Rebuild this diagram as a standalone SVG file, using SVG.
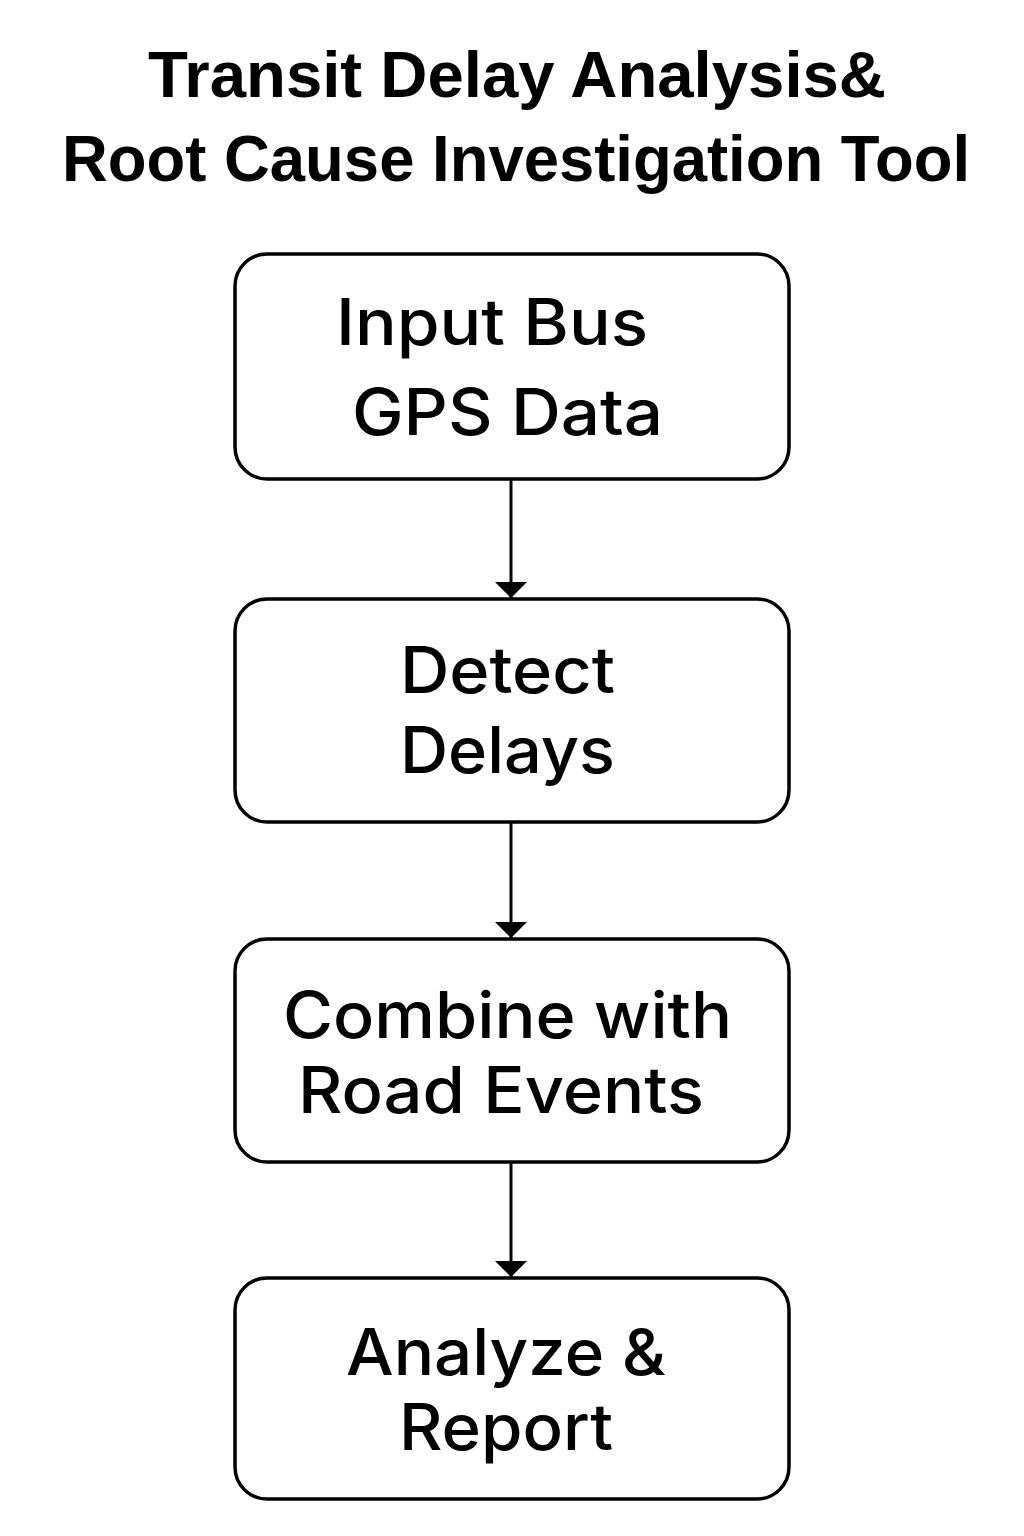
<svg xmlns="http://www.w3.org/2000/svg" width="1024" height="1536" viewBox="0 0 1024 1536">
<style>
.title{font-family:"Liberation Sans",Arial,sans-serif;font-weight:bold;font-size:64px;fill:#000;text-anchor:middle}
.box{fill:#fff;stroke:#000;stroke-width:3.5}
.lbl{font-family:Inter,"Noto Sans",sans-serif;font-weight:500;font-size:64px;fill:#000}
.conn{stroke:#000;stroke-width:3;fill:none}
</style>
<defs>
<marker id="ah" markerWidth="16" markerHeight="32" refX="16" refY="16" orient="auto" markerUnits="userSpaceOnUse">
<path d="M0,0 L16,16 L0,32 Z" fill="#000"/>
</marker>
</defs>
<rect width="1024" height="1536" fill="#fff"/>
<g id="title">
<text class="title" x="517" y="97" textLength="738" lengthAdjust="spacingAndGlyphs">Transit Delay Analysis&amp;</text>
<text class="title" x="516" y="181" textLength="908" lengthAdjust="spacingAndGlyphs">Root Cause Investigation Tool</text>
</g>
<g id="connectors">
<line class="conn" x1="511" y1="479" x2="511" y2="598" marker-end="url(#ah)"/>
<line class="conn" x1="511" y1="822" x2="511" y2="938" marker-end="url(#ah)"/>
<line class="conn" x1="511" y1="1162" x2="511" y2="1277" marker-end="url(#ah)"/>
</g>
<g id="node1">
<rect class="box" x="235" y="254" width="554" height="225" rx="32"/>
<text class="lbl" x="336" y="345" textLength="312" lengthAdjust="spacingAndGlyphs">Input Bus</text>
<text class="lbl" x="352" y="435" textLength="311" lengthAdjust="spacingAndGlyphs">GPS Data</text>
</g>
<g id="node2">
<rect class="box" x="235" y="599" width="554" height="223" rx="32"/>
<text class="lbl" x="400" y="693" textLength="215" lengthAdjust="spacingAndGlyphs">Detect</text>
<text class="lbl" x="400" y="773" textLength="215" lengthAdjust="spacingAndGlyphs">Delays</text>
</g>
<g id="node3">
<rect class="box" x="235" y="939" width="554" height="223" rx="32"/>
<text class="lbl" x="283" y="1038" textLength="449" lengthAdjust="spacingAndGlyphs">Combine with</text>
<text class="lbl" x="298" y="1113" textLength="406" lengthAdjust="spacingAndGlyphs">Road Events</text>
</g>
<g id="node4">
<rect class="box" x="235" y="1278" width="554" height="221" rx="32"/>
<text class="lbl" x="346" y="1375" textLength="320" lengthAdjust="spacingAndGlyphs">Analyze &amp;</text>
<text class="lbl" x="399" y="1450" textLength="214" lengthAdjust="spacingAndGlyphs">Report</text>
</g>
</svg>
